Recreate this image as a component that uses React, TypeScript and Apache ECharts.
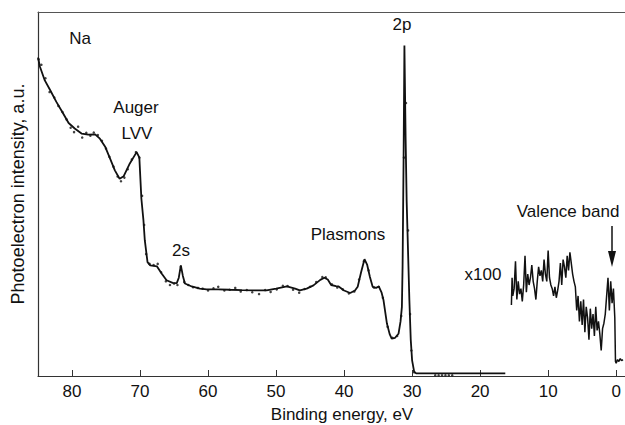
import React, { useEffect, useRef } from "react";
import * as echarts from "echarts";

// Binding energy ticks (eV)
const xTicks = [0, 10, 20, 30, 40, 50, 60, 70, 80];

// Fitted spectrum line: [binding energy eV, intensity a.u.]
const spectrumLine: [number, number][] = [
  [85, 87.5], [84.7, 84.9], [84.0, 81.2], [83.2, 78.5], [82.3, 75.3], [81.3, 72.1],
  [80.5, 69.5], [79.6, 68.0], [78.6, 66.6], [77.6, 66.3], [76.6, 66.4], [75.9, 65.2],
  [75.1, 62.9], [74.4, 59.7], [73.7, 56.5], [73.0, 54.2], [72.4, 54.9], [71.5, 58.4],
  [70.5, 61.5], [70.1, 60.0], [69.8, 48.7], [69.5, 42.8], [69.3, 37.3], [68.9, 31.3],
  [68.5, 30.4], [67.5, 30.1], [66.8, 28.1], [66.1, 26.3], [65.2, 25.6], [64.6, 25.5],
  [64.3, 27.0], [64.0, 30.4], [63.7, 27.5], [63.4, 25.4], [62.4, 24.6], [61.2, 24.0],
  [60.2, 23.8], [58.5, 23.8], [56.8, 23.7], [55.0, 23.6], [53.0, 23.5], [51.4, 23.5],
  [50.0, 24.0], [48.4, 24.6], [47.2, 24.0], [46.5, 23.5], [45.5, 24.0], [44.5, 24.9],
  [43.5, 26.4], [42.9, 27.0], [42.4, 26.5], [41.9, 25.0], [41.2, 24.7], [40.8, 24.6],
  [40.0, 23.5], [39.1, 22.8], [38.4, 23.5], [38.0, 24.5], [37.5, 28.5], [37.0, 32.1],
  [36.6, 30.5], [36.2, 27.2], [35.8, 24.5], [35.3, 24.2], [34.9, 24.6], [34.5, 23.0],
  [34.2, 20.8], [33.7, 14.4], [33.3, 11.5], [33.0, 10.3], [32.5, 10.5], [32.0, 11.6],
  [31.7, 15.0], [31.5, 19.0], [31.4, 30.0], [31.25, 60.0], [31.13, 90.8], [30.95, 65.0],
  [30.8, 48.0], [30.4, 20.8], [30.2, 10.0], [30.0, 4.3], [29.7, 1.2], [29.4, 0.7],
  [16.3, 0.7],
];

// Measured points (dots) around the fitted line
const measuredPoints: [number, number][] = [
  [84.9, 87], [84.5, 85.5], [83.9, 81.8], [83.3, 78.0], [82.6, 76.5], [82.0, 74.2],
  [81.4, 72.5], [80.8, 70.5], [80.2, 68.2], [79.7, 67.0], [79.1, 68.5], [78.5, 65.5],
  [77.9, 66.8], [77.3, 66.0], [76.8, 66.9], [76.2, 66.2], [75.6, 64.6], [75.0, 62.5],
  [74.5, 60.2], [73.9, 57.5], [73.3, 54.8], [72.8, 53.5], [72.3, 54.5], [71.8, 56.8],
  [71.2, 59.5], [70.6, 61.5], [70.1, 60.0], [69.7, 49.5], [69.4, 41.5], [69.1, 33.5],
  [68.6, 30.8], [68.0, 30.5], [67.4, 30.8], [66.9, 28.5], [66.2, 26.0], [65.6, 25.0],
  [65.0, 25.4], [64.5, 25.0], [64.0, 30.0], [63.5, 25.8], [62.9, 25.0], [62.2, 24.4],
  [61.5, 24.2], [60.8, 24.0], [60.0, 23.5], [59.2, 24.1], [58.5, 24.5], [57.6, 23.5],
  [56.8, 23.7], [56.0, 24.2], [55.2, 23.2], [54.3, 23.6], [53.5, 23.0], [52.5, 22.5],
  [51.6, 23.6], [50.8, 23.1], [49.9, 23.8], [49.0, 24.8], [48.3, 24.7], [47.5, 23.7],
  [46.6, 22.9], [45.8, 23.9], [45.0, 24.5], [44.1, 25.8], [43.2, 27.2], [42.7, 27.1],
  [41.8, 25.2], [41.0, 24.3], [40.2, 23.8], [39.3, 22.7], [38.5, 23.2], [37.8, 26.5],
  [37.1, 31.5], [36.4, 29.0], [35.6, 24.3], [34.9, 24.5], [34.3, 21.5], [33.6, 13.5],
  [32.9, 10.5], [32.2, 11.0], [31.6, 16.5], [31.2, 60], [30.9, 75], [30.6, 40],
  [30.3, 17], [30.1, 7], [29.7, 1.0], [26.6, 0.2], [26.1, 0.2], [25.6, 0.2],
  [25.1, 0.2], [24.6, 0.2], [24.1, 0.2],
];

// Valence band region, magnified x100
const valenceEnergy = [
  15.4, 15.3, 15.2, 15.0, 14.8, 14.6, 14.4, 14.2, 14.0, 13.8, 13.6, 13.4, 13.2, 13.0,
  12.8, 12.6, 12.4, 12.2, 12.0, 11.8, 11.6, 11.4, 11.2, 11.0, 10.8, 10.6, 10.4, 10.2,
  10.0, 9.8, 9.6, 9.4, 9.2, 9.0, 8.8, 8.6, 8.4, 8.2, 8.0, 7.8, 7.6, 7.4, 7.2, 7.0,
  6.8, 6.6, 6.4, 6.2, 6.0, 5.8, 5.6, 5.4, 5.2, 5.0, 4.8, 4.6, 4.4, 4.2, 4.0, 3.8,
  3.6, 3.4, 3.2, 3.0, 2.8, 2.6, 2.4, 2.2, 2.0, 1.8, 1.6, 1.4, 1.2, 1.0, 0.8, 0.6,
  0.4, 0.2, 0.1, 0.0, -0.2, -0.4, -0.6, -0.8, -1.0, -1.3,
];
const valenceIntensity = [
  19.5, 27, 22, 24, 31.5, 21, 26, 22.5, 24, 20.5, 25, 33, 23, 28,
  25, 27, 30.5, 26, 24, 21, 26, 30, 27.5, 29, 26, 32, 28, 26,
  34.5, 27, 25, 24, 22, 24.5, 21.5, 23.5, 26, 31, 25, 32, 30, 27,
  33, 29, 34, 31, 28, 26, 24.5, 18, 22, 15, 20.5, 14, 21, 12, 19,
  16, 10, 18.5, 13, 17, 11, 19, 12.5, 15, 11.5, 7, 13, 14.5, 17, 22,
  27, 18, 26, 20, 24, 16, 4, 3.5, 4.5, 4, 4.8, 4.2, 4.5,
];

const FONT = "'Liberation Sans', Arial, Helvetica, sans-serif";

export default function App() {
  const ref = useRef<HTMLDivElement>(null);
  useEffect(() => {
    if (!ref.current) return;
    const chart = echarts.init(ref.current, undefined, { renderer: "svg" });
    const valence = valenceEnergy.map((e, i) => [e, valenceIntensity[i]]);
    const txt = (text: string, x: number, y: number, size = 17) => ({
      type: "text",
      x,
      y,
      style: {
        text,
        fill: "#111",
        font: `${size}px ${FONT}`,
        align: "center",
        verticalAlign: "middle",
      },
    });
    chart.setOption({
      animation: false,
      backgroundColor: "#fff",
      grid: { left: 38, right: 0, top: 12, bottom: 49 },
      xAxis: [
        {
          type: "value",
          min: -1.3,
          max: 85,
          inverse: true,
          splitLine: { show: false },
          axisLine: { onZero: false, lineStyle: { color: "#333", width: 1.2 } },
          axisTick: {
            inside: true,
            length: 6,
            customValues: xTicks,
            lineStyle: { color: "#333" },
          },
          axisLabel: {
            customValues: xTicks,
            color: "#111",
            fontSize: 17,
            fontFamily: FONT,
            margin: 7,
          },
        },
        {
          type: "value",
          position: "top",
          min: -1.3,
          max: 85,
          inverse: true,
          splitLine: { show: false },
          axisLine: { show: true, onZero: false, lineStyle: { color: "#555", width: 1 } },
          axisTick: { show: false },
          axisLabel: { show: false },
        },
      ],
      yAxis: {
        type: "value",
        min: 0,
        max: 100,
        splitLine: { show: false },
        axisLine: { show: true, onZero: false, lineStyle: { color: "#333", width: 1.2 } },
        axisTick: { show: false },
        axisLabel: { show: false },
        name: "Photoelectron intensity, a.u.",
        nameLocation: "middle",
        nameGap: 11,
        nameTextStyle: { color: "#111", fontSize: 18, fontFamily: FONT },
      },
      series: [
        {
          type: "line",
          data: spectrumLine,
          showSymbol: false,
          lineStyle: { color: "#111", width: 1.8 },
          z: 3,
        },
        {
          type: "scatter",
          data: measuredPoints,
          symbolSize: 2.5,
          itemStyle: { color: "#111" },
          z: 4,
        },
        {
          type: "line",
          data: valence,
          showSymbol: false,
          lineStyle: { color: "#111", width: 1.5 },
          z: 3,
        },
      ],
      graphic: [
        txt("Na", 80, 38),
        txt("Auger", 136, 107),
        txt("LVV", 137, 133),
        txt("2s", 181, 250),
        txt("Plasmons", 348, 234),
        txt("2p", 402, 24),
        txt("x100", 483, 274),
        txt("Valence band", 568, 211),
        txt("Binding energy, eV", 342, 414),
        {
          type: "line",
          shape: { x1: 612, y1: 226, x2: 612, y2: 256 },
          style: { stroke: "#111", lineWidth: 1.5 },
        },
        {
          type: "polygon",
          shape: { points: [[608, 251], [616, 251], [612, 267]] },
          style: { fill: "#111" },
        },
      ],
    });
    return () => chart.dispose();
  }, []);
  return (
    <div
      ref={ref}
      style={{ position: "fixed", left: 0, top: 0, width: 625, height: 425 }}
    />
  );
}
